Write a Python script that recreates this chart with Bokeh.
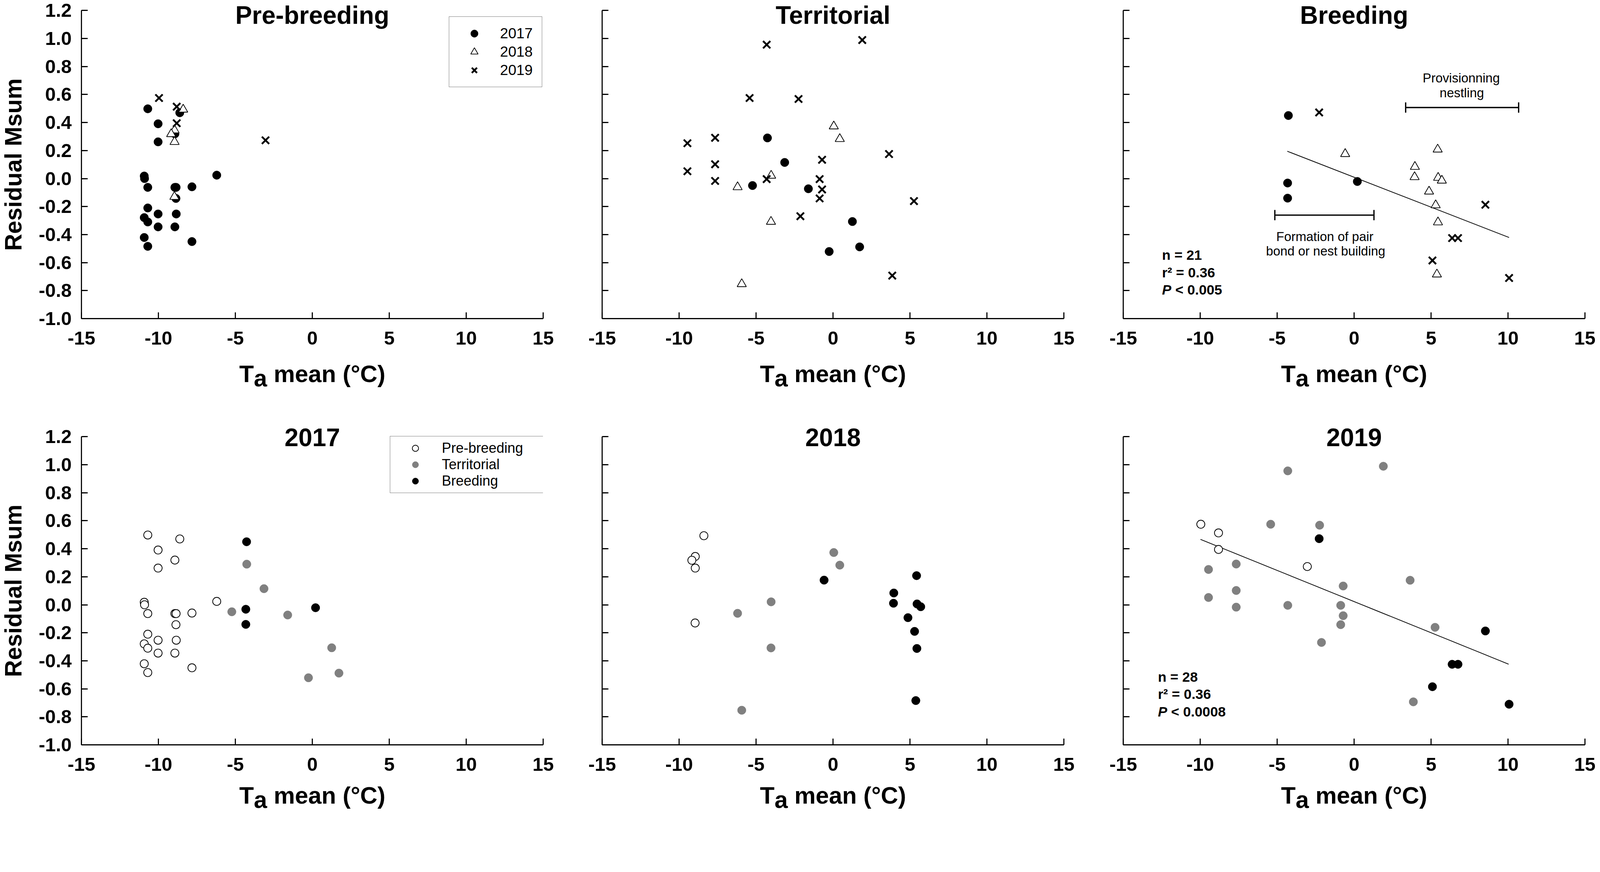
import numpy as np
from bokeh.plotting import figure
from bokeh.models import (Range1d, FixedTicker, PrintfTickFormatter, CustomJSTickFormatter,
                          Label, Legend, LegendItem, Whisker, TeeHead, ColumnDataSource)
from bokeh.layouts import gridplot
from bokeh.core.properties import value
from bokeh.embed import file_html
from bokeh.resources import INLINE

FONT = "Liberation Sans"

# ---------------- data ----------------
years = ["2017", "2018", "2019"]
seasons = ["Pre-breeding", "Territorial", "Breeding"]

x_ticks = [-15, -10, -5, 0, 5, 10, 15]
y_ticks = [-1.0, -0.8, -0.6, -0.4, -0.2, 0.0, 0.2, 0.4, 0.6, 0.8, 1.0, 1.2]

# Pre-breeding
pre_2017_x = [-10.69, -10.02, -10.02, -8.61, -8.93, -10.92, -10.90, -10.69, -8.93, -8.85, -7.82, -6.21,
              -8.86, -10.69, -10.02, -8.84, -10.92, -10.69, -10.02, -8.93, -10.92, -7.82, -10.69]
pre_2017_y = [0.498, 0.391, 0.262, 0.470, 0.319, 0.018, 0.000, -0.063, -0.063, -0.063, -0.059, 0.024,
              -0.142, -0.210, -0.253, -0.253, -0.279, -0.310, -0.345, -0.345, -0.421, -0.450, -0.484]
pre_2018_x = [-8.39, -8.95, -9.17, -8.95, -8.96]
pre_2018_y = [0.493, 0.345, 0.318, 0.262, -0.130]
pre_2019_x = [-9.96, -8.81, -8.81, -3.04]
pre_2019_y = [0.575, 0.513, 0.395, 0.273]

# Territorial
terr_2017_x = [-4.26, -3.14, -5.23, -1.60, 1.26, 1.73, -0.25]
terr_2017_y = [0.290, 0.115, -0.050, -0.073, -0.307, -0.488, -0.521]
terr_2018_x = [0.05, 0.44, -4.02, -6.20, -4.03, -5.93]
terr_2018_y = [0.373, 0.283, 0.021, -0.061, -0.308, -0.753]
terr_2019_x = [-4.31, 1.90, -5.42, -2.24, -9.46, -7.66, 3.64, -0.71, -9.46, -7.66, -7.66, -4.31,
               -0.87, -0.71, -0.87, 5.26, -2.12, 3.85]
terr_2019_y = [0.956, 0.989, 0.575, 0.568, 0.252, 0.291, 0.175, 0.134, 0.052, 0.102, -0.017, -0.004,
               -0.004, -0.078, -0.142, -0.161, -0.269, -0.693]

# Breeding
breed_2017_x = [-4.27, -4.32, -4.32, 0.21]
breed_2017_y = [0.450, -0.032, -0.140, -0.021]
breed_2018_x = [-0.58, 5.43, 3.95, 3.93, 5.46, 5.70, 4.87, 5.30, 5.45, 5.38]
breed_2018_y = [0.176, 0.208, 0.084, 0.011, 0.006, -0.014, -0.092, -0.190, -0.312, -0.684]
breed_2019_x = [-2.27, 8.53, 6.37, 6.75, 5.09, 10.07]
breed_2019_y = [0.472, -0.187, -0.425, -0.425, -0.585, -0.710]

# regression lines (end points)
fit_breeding_x = [-4.34, 10.07]
fit_breeding_y = [0.195, -0.421]
fit_2019_x = [-9.98, 10.04]
fit_2019_y = [0.467, -0.424]

# breeding phases (temperature ranges) and their captions
phase_start = [-5.15, 3.35]
phase_end = [1.29, 10.69]
phase_level = [-0.261, 0.507]
phase_text = ["Formation of pair", "bond or nest building", "Provisionning", "nestling"]
phase_text_x = [-1.90, -1.85, 6.96, 7.00]
phase_text_y = [-0.413, -0.518, 0.718, 0.613]

stats_breeding = ["n = 21", "r\u00b2 = 0.36", "< 0.005"]
stats_2019 = ["n = 28", "r\u00b2 = 0.36", "< 0.0008"]

data = {
    "Pre-breeding": {"2017": (pre_2017_x, pre_2017_y), "2018": (pre_2018_x, pre_2018_y),
                     "2019": (pre_2019_x, pre_2019_y)},
    "Territorial": {"2017": (terr_2017_x, terr_2017_y), "2018": (terr_2018_x, terr_2018_y),
                    "2019": (terr_2019_x, terr_2019_y)},
    "Breeding": {"2017": (breed_2017_x, breed_2017_y), "2018": (breed_2018_x, breed_2018_y),
                 "2019": (breed_2019_x, breed_2019_y)},
}

# ---------------- geometry (css px) ----------------
K = 1 / 1.0639          # page is photographed slightly enlarged


def px(v):
    return v * K


def fs(v):
    return f"{v * K:.1f}px"


FRAME_W = 1182
PX_PER_UNIT = 358.5
FRAME_HS = [812, 832]                      # frame heights per row (extend above 1.2)
Y_ENDS = [-1.0 + h / PX_PER_UNIT for h in FRAME_HS]
TITLE_Y = [1.165, 1.194]
STRIP_W = 94
LEFTS = [114, 113, 113]
RIGHTS = [38, 39, 27]
TOPS = [3, 70]
BOTTOM = 82
XSTRIP_H = [107, 93]
XLAB_MID = [59.2, 47.0]       # text centre from strip top

year_style = {
    "2017": dict(marker="circle", size=px(23), fill_color="black", line_color="black", line_width=px(1)),
    "2018": dict(marker="triangle", size=px(25), fill_color="white", line_color="black", line_width=px(2)),
    "2019": dict(marker="x", size=px(28), line_color="black", line_width=px(5)),
}
season_style = {
    "Pre-breeding": dict(marker="circle", size=px(22), fill_color="white", line_color="black",
                         line_width=px(2)),
    "Territorial": dict(marker="circle", size=px(23), fill_color="#808080", line_color="#808080",
                        line_width=px(1)),
    "Breeding": dict(marker="circle", size=px(23), fill_color="black", line_color="black",
                     line_width=px(1)),
}


def base_fig(width, height, left, right, top, bottom, x_range, y_range, axes=True):
    kw = {} if axes else dict(x_axis_type=None, y_axis_type=None)
    p = figure(width=width, height=height, x_range=x_range, y_range=y_range,
               output_backend="svg", toolbar_location=None,
               min_border_left=left, min_border_right=right,
               min_border_top=top, min_border_bottom=bottom, **kw)
    p.outline_line_color = None
    p.grid.visible = False
    p.background_fill_color = "white"
    p.border_fill_color = "white"
    return p


def make_panel(col, row, title):
    left, right, top = LEFTS[col], RIGHTS[col], TOPS[row]
    p = base_fig(left + FRAME_W + right, top + FRAME_HS[row] + BOTTOM, left, right, top, BOTTOM,
                 Range1d(-15, 15), Range1d(-1.0, Y_ENDS[row]))
    for ax in (p.xaxis[0], p.yaxis[0]):
        ax.axis_line_width = px(3)
        ax.axis_line_color = "black"
        ax.major_tick_line_width = px(3)
        ax.major_tick_line_color = "black"
        ax.major_tick_in = round(px(17))
        ax.major_tick_out = 0
        ax.minor_tick_line_color = None
        ax.major_label_text_font = FONT
        ax.major_label_text_font_size = fs(52)
        ax.major_label_text_font_style = "bold"
        ax.major_label_text_color = "black"
    p.xaxis.ticker = FixedTicker(ticks=x_ticks)
    p.yaxis.ticker = FixedTicker(ticks=y_ticks)
    p.yaxis.bounds = (-1.0, 1.2)
    p.xaxis.formatter = PrintfTickFormatter(format="%d")
    p.xaxis.major_label_standoff = 33
    p.yaxis.major_label_standoff = 25
    if col == 0:
        p.yaxis.formatter = PrintfTickFormatter(format="%.1f")
    else:
        p.yaxis.formatter = CustomJSTickFormatter(code="return ''")
    p.add_layout(Label(x=0, y=TITLE_Y[row], text=title, text_align="center", text_baseline="middle",
                       text_font=FONT, text_font_size=fs(68), text_font_style="bold",
                       text_color="black"))
    return p


def make_ylabel_strip(row):
    top = TOPS[row]
    p = base_fig(STRIP_W, top + FRAME_HS[row] + BOTTOM, 0, 0, top, BOTTOM,
                 Range1d(0, STRIP_W), Range1d(-1.0, Y_ENDS[row]), axes=False)
    f = 64 * K
    xc = max(px(60) - 8 - 0.35 * f, 0.56 * f)
    p.text(x=[xc], y=[0.1], text=["Residual Msum"], angle=np.pi / 2,
           text_align="center", text_baseline="middle", text_font=value(FONT),
           text_font_size=value(f"{f:.1f}px"), text_font_style="bold", text_color="black")
    return p


def make_xlabel_strip(col, row):
    left, right, h = LEFTS[col], RIGHTS[col], XSTRIP_H[row]
    p = base_fig(left + FRAME_W + right, h, left, right, 0, 0,
                 Range1d(-15, 15), Range1d(0, h), axes=False)
    f = 65 * K
    x0 = -(0.611 + 0.556 + 0.278 + 4.678) * f / 2
    yc = h - XLAB_MID[row]
    p.text(x=[0, 0, 0], y=[yc, yc - px(12), yc], text=["T", "a", "mean (\u00b0C)"],
           x_offset=[x0, x0 + 0.611 * f, x0 + (0.611 + 0.556 + 0.278) * f],
           text_align="left", text_baseline="middle", text_font=value(FONT),
           text_font_size=value(f"{f:.1f}px"), text_font_style="bold", text_color="black")
    return p


def add_stats(p, x, ys, lines):
    common = dict(x=x, text_align="left", text_baseline="middle", text_font=FONT,
                  text_font_size=fs(38), text_color="black")
    p.add_layout(Label(y=ys[0], text=lines[0], text_font_style="bold", **common))
    p.add_layout(Label(y=ys[1], text=lines[1], text_font_style="bold", **common))
    p.add_layout(Label(y=ys[2], text="P", text_font_style="bold italic", **common))
    p.add_layout(Label(y=ys[2], text=lines[2], x_offset=px(36), text_font_style="bold", **common))


# ---------------- top row: by season ----------------
top_panels = []
for c, season in enumerate(seasons):
    p = make_panel(c, 0, season)
    if season == "Breeding":
        p.line(fit_breeding_x, fit_breeding_y, line_width=px(2), line_color="black")
    rends = {}
    for yr in years:
        xs, ys = data[season][yr]
        rends[yr] = p.scatter(xs, ys, **year_style[yr])
    if season == "Pre-breeding":
        leg = Legend(items=[LegendItem(label=value(yr), renderers=[rends[yr]]) for yr in years],
                     location=(941, 592), orientation="vertical", padding=19, spacing=0, margin=0,
                     glyph_width=90, glyph_height=47, label_height=47, label_width=88,
                     label_standoff=21, label_text_font=FONT, label_text_font_size=fs(40),
                     label_text_color="black", border_line_color="black", border_line_width=px(2),
                     background_fill_color="white", background_fill_alpha=1.0)
        p.add_layout(leg)
    if season == "Breeding":
        src = ColumnDataSource(dict(base=phase_level, lower=phase_start, upper=phase_end))
        p.add_layout(Whisker(base="base", lower="lower", upper="upper", dimension="width", source=src,
                             line_width=px(3.5), line_color="black",
                             lower_head=TeeHead(size=px(28), line_width=px(3.5), line_color="black"),
                             upper_head=TeeHead(size=px(28), line_width=px(3.5), line_color="black")))
        p.text(x=phase_text_x, y=phase_text_y, text=phase_text, text_font=value(FONT),
               text_font_size=value(fs(35)), text_align="center", text_baseline="middle",
               text_color="black")
        add_stats(p, -12.48, [-0.548, -0.671, -0.794], stats_breeding)
    top_panels.append(p)

# ---------------- bottom row: by year ----------------
bottom_panels = []
for c, yr in enumerate(years):
    p = make_panel(c, 1, yr)
    if yr == "2019":
        p.line(fit_2019_x, fit_2019_y, line_width=px(2), line_color="black")
    rends = {}
    for season in seasons:
        xs, ys = data[season][yr]
        rends[season] = p.scatter(xs, ys, **season_style[season])
    if yr == "2017":
        leg = Legend(items=[LegendItem(label=value(s), renderers=[rends[s]]) for s in seasons],
                     location=(790, 644), orientation="vertical", padding=9, spacing=0, margin=0,
                     glyph_width=110, glyph_height=40, label_height=40, label_width=251,
                     label_standoff=13, label_text_font=FONT, label_text_font_size="36px",
                     label_text_color="black", border_line_color="black", border_line_width=px(2),
                     background_fill_color="white", background_fill_alpha=1.0)
        p.add_layout(leg)
    if yr == "2019":
        add_stats(p, -12.75, [-0.515, -0.640, -0.765], stats_2019)
    bottom_panels.append(p)

rows = [
    [make_ylabel_strip(0)] + top_panels,
    [None] + [make_xlabel_strip(c, 0) for c in range(3)],
    [make_ylabel_strip(1)] + bottom_panels,
    [None] + [make_xlabel_strip(c, 1) for c in range(3)],
]
grid = gridplot(rows, toolbar_location=None)

with open("out.html", "w") as f:
    f.write(file_html(grid, INLINE))
